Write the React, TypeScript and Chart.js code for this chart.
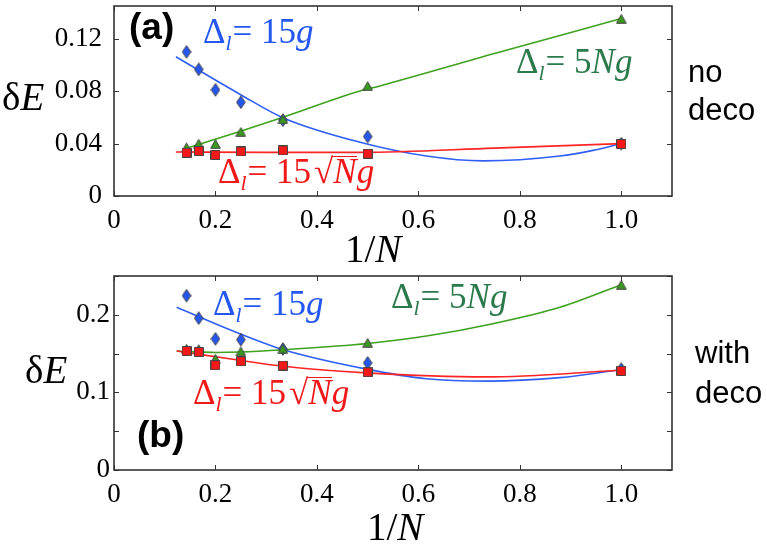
import React, { useEffect, useRef } from "react";
import { Chart, registerables } from "chart.js";

Chart.register(...registerables);

// ---------- data ----------
const invN = [0.143, 0.167, 0.2, 0.25, 0.333, 0.5, 1.0];

// panel (a): no deco
const blueA = [0.11, 0.0966, 0.081, 0.0715, 0.0579, 0.0454, 0.04];
const greenA = [0.0372, 0.04, 0.0397, 0.049, 0.0586, 0.084, 0.1353];
const redA = [0.033, 0.0343, 0.0313, 0.034, 0.0348, 0.0323, 0.0397];

const fitBlueAX = [0.122, 0.248, 0.334, 0.485, 0.616, 0.728, 0.879, 0.944, 1.0];
const fitBlueAY = [0.1063, 0.0777, 0.0596, 0.041, 0.0305, 0.0268, 0.0305, 0.0348, 0.04];
const fitGreenAX = [0.14, 0.248, 0.334, 0.485, 0.524, 0.75, 1.0];
const fitGreenAY = [0.036, 0.0492, 0.0603, 0.0802, 0.084, 0.1087, 0.1354];
const fitRedAX = [0.122, 0.3, 0.485, 0.75, 1.0];
const fitRedAY = [0.0336, 0.0333, 0.0333, 0.0365, 0.04];

// panel (b): with deco
const blueB = [0.2247, 0.1957, 0.169, 0.168, 0.156, 0.138, 0.13];
const greenB = [0.1564, 0.156, 0.1436, 0.153, 0.1564, 0.164, 0.2388];
const redB = [0.1533, 0.152, 0.135, 0.14, 0.1346, 0.126, 0.1277];

const fitBlueBX = [0.1235, 0.248, 0.334, 0.498, 0.616, 0.734, 0.879, 1.0];
const fitBlueBY = [0.2097, 0.1756, 0.155, 0.13, 0.1175, 0.1145, 0.119, 0.1295];
const fitGreenBX = [0.1235, 0.2, 0.248, 0.334, 0.5, 0.616, 0.747, 0.879, 1.0];
const fitGreenBY = [0.1533, 0.1515, 0.152, 0.155, 0.163, 0.1726, 0.1885, 0.2097, 0.2388];
const fitRedBX = [0.1235, 0.248, 0.334, 0.498, 0.734, 1.0];
const fitRedBY = [0.1533, 0.1414, 0.1337, 0.1251, 0.12, 0.1286];

// axes
const xMin = 0;
const xMax = 1.1;
const xStep = 0.2;
const yMaxA = 0.145;
const yStepA = 0.02;
const yLabelEveryA = 2;
const yMaxB = 0.25;
const yStepB = 0.05;
const yLabelEveryB = 2;

// ---------- styling ----------
const SERIF = "'Liberation Serif', 'Times New Roman', serif";
const SANS = "'Liberation Sans', Arial, sans-serif";
const BLUE_LINE = "#2f5ff5";
const GREEN_LINE = "#3ea21e";
const RED_LINE = "#ff2424";
const BLUE_FILL = "#2456f0";
const GREEN_FILL = "#3a9a1e";
const RED_FILL = "#f51818";
const BLUE_TXT = "#2456f0";
const GREEN_TXT = "#2b7a4c";
const RED_TXT = "#f01818";

function zip(xs: number[], ys: number[]) {
  return xs.map((x, i) => ({ x, y: ys[i] }));
}

function marker(kind: "diamond" | "square" | "triangle", fill: string) {
  const c = document.createElement("canvas");
  let w = 10, h = 10;
  if (kind === "diamond") { w = 10; h = 14; }
  if (kind === "triangle") { w = 11; h = 10; }
  c.width = w;
  c.height = h;
  const ctx = c.getContext("2d")!;
  ctx.fillStyle = fill;
  ctx.strokeStyle = "#444";
  ctx.lineWidth = 1;
  ctx.beginPath();
  if (kind === "diamond") {
    ctx.moveTo(w / 2, 0.7);
    ctx.lineTo(w - 0.7, h / 2);
    ctx.lineTo(w / 2, h - 0.7);
    ctx.lineTo(0.7, h / 2);
  } else if (kind === "square") {
    ctx.rect(0.5, 0.5, w - 1, h - 1);
  } else {
    ctx.moveTo(w / 2, 0.7);
    ctx.lineTo(w - 0.7, h - 0.7);
    ctx.lineTo(0.7, h - 0.7);
  }
  ctx.closePath();
  ctx.fill();
  ctx.stroke();
  return c;
}

const framePlugin = {
  id: "frameTicks",
  afterDatasetsDraw(chart: any) {
    const { ctx, chartArea: a } = chart;
    const xs = chart.scales.x;
    const ys = chart.scales.y;
    ctx.save();
    ctx.strokeStyle = "#333";
    ctx.lineWidth = 1;
    ctx.beginPath();
    xs.ticks.forEach((t: any) => {
      const px = Math.round(xs.getPixelForValue(t.value)) + 0.5;
      ctx.moveTo(px, a.bottom);
      ctx.lineTo(px, a.bottom - 5);
      ctx.moveTo(px, a.top);
      ctx.lineTo(px, a.top + 5);
    });
    ys.ticks.forEach((t: any) => {
      const py = Math.round(ys.getPixelForValue(t.value)) + 0.5;
      ctx.moveTo(a.left, py);
      ctx.lineTo(a.left + 5, py);
      ctx.moveTo(a.right, py);
      ctx.lineTo(a.right - 5, py);
    });
    ctx.stroke();
    ctx.lineWidth = 1.6;
    ctx.strokeRect(a.left, a.top, a.right - a.left, a.bottom - a.top);
    ctx.restore();
  },
};

type Panel = {
  blue: number[]; green: number[]; red: number[];
  fbx: number[]; fby: number[]; fgx: number[]; fgy: number[]; frx: number[]; fry: number[];
  yMax: number; yStep: number; yEvery: number; yDigits: number;
  padTop: number; xAxisH: number; yPad: number;
};

function buildConfig(p: Panel) {
  const dia = marker("diamond", BLUE_FILL);
  const sq = marker("square", RED_FILL);
  const tri = marker("triangle", GREEN_FILL);
  const fitDs = (xs: number[], ys: number[], color: string, order: number) => ({
    data: zip(xs, ys),
    showLine: true,
    borderColor: color,
    borderWidth: 1.6,
    pointRadius: 0,
    cubicInterpolationMode: "monotone",
    fill: false,
    order,
  });
  const ptDs = (ys: number[], img: HTMLCanvasElement, order: number) => ({
    data: zip(invN, ys),
    showLine: false,
    pointStyle: img,
    pointRadius: 5,
    order,
  });
  return {
    type: "scatter",
    data: {
      datasets: [
        fitDs(p.fbx, p.fby, BLUE_LINE, 12),
        fitDs(p.fgx, p.fgy, GREEN_LINE, 11),
        fitDs(p.frx, p.fry, RED_LINE, 10),
        ptDs(p.blue, dia, 3),
        ptDs(p.green, tri, 2),
        ptDs(p.red, sq, 1),
      ],
    },
    options: {
      animation: false,
      responsive: false,
      devicePixelRatio: 1,
      events: [],
      layout: { padding: { left: 0, right: 95, top: p.padTop, bottom: 0 } },
      plugins: { legend: { display: false }, tooltip: { enabled: false } },
      scales: {
        x: {
          type: "linear",
          min: xMin,
          max: xMax,
          grid: { display: false, drawTicks: false },
          border: { display: false },
          afterFit(s: any) {
            s.height = p.xAxisH;
            s.paddingLeft = 0;
            s.paddingRight = 0;
          },
          ticks: {
            stepSize: xStep,
            includeBounds: false,
            padding: 9,
            color: "#000",
            font: { family: SERIF, size: 27 },
            callback: (v: number) => (Math.abs(v) < 1e-9 ? "0" : v.toFixed(1)),
          },
        },
        y: {
          type: "linear",
          min: 0,
          max: p.yMax,
          grid: { display: false, drawTicks: false },
          border: { display: false },
          afterFit(s: any) {
            s.width = 114;
            s.paddingTop = 0;
            s.paddingBottom = 0;
          },
          ticks: {
            stepSize: p.yStep,
            includeBounds: false,
            padding: p.yPad,
            color: "#000",
            font: { family: SERIF, size: 27 },
            callback: (v: number) => {
              const k = Math.round(v / p.yStep);
              if (k % p.yEvery !== 0) return "";
              return k === 0 ? "0" : v.toFixed(p.yDigits);
            },
          },
        },
      },
    },
    plugins: [framePlugin],
  };
}

function ChartCanvas({ panel, top, height }: { panel: Panel; top: number; height: number }) {
  const ref = useRef<HTMLCanvasElement | null>(null);
  useEffect(() => {
    if (!ref.current) return;
    const chart = new Chart(ref.current, buildConfig(panel) as any);
    return () => chart.destroy();
  }, []);
  return (
    <canvas
      ref={ref}
      width={767}
      height={height}
      style={{ position: "absolute", left: 0, top, width: 767, height }}
    />
  );
}

function T({ x, y, size, color = "#000", family = SERIF, weight = 400, children }: any) {
  const asc = family === SANS ? 0.8465 : 0.8375;
  return (
    <div
      style={{
        position: "absolute",
        left: x,
        top: y - asc * size,
        fontSize: size,
        lineHeight: `${size}px`,
        fontFamily: family,
        fontWeight: weight,
        color,
        whiteSpace: "nowrap",
      }}
    >
      {children}
    </div>
  );
}

const Sub = () => (
  <span style={{ fontStyle: "italic", fontSize: "0.62em", verticalAlign: "-0.32em", lineHeight: 0, marginRight: 1 }}>l</span>
);

const LBL = 35;

function Delta15g({ x, y }: { x: number; y: number }) {
  return (
    <T x={x} y={y} size={LBL} color={BLUE_TXT}>
      Δ<Sub />= 15<i>g</i>
    </T>
  );
}
function Delta5Ng({ x, y }: { x: number; y: number }) {
  return (
    <T x={x} y={y} size={LBL} color={GREEN_TXT}>
      Δ<Sub />= 5<i>Ng</i>
    </T>
  );
}
function Delta15sqrtNg({ x, y }: { x: number; y: number }) {
  return (
    <T x={x} y={y} size={LBL} color={RED_TXT}>
      Δ<Sub />= 15
      <span style={{ marginLeft: 3 }}>√</span>
      <span style={{ display: "inline-block", position: "relative" }}>
        <i>N</i>
        <span
          style={{ position: "absolute", left: -1, right: 0, top: 2, borderTop: `1.5px solid ${RED_TXT}` }}
        />
      </span>
      <i>g</i>
    </T>
  );
}

const panelA: Panel = {
  blue: blueA, green: greenA, red: redA,
  fbx: fitBlueAX, fby: fitBlueAY, fgx: fitGreenAX, fgy: fitGreenAY, frx: fitRedAX, fry: fitRedAY,
  yMax: yMaxA, yStep: yStepA, yEvery: yLabelEveryA, yDigits: 2,
  padTop: 2, xAxisH: 74, yPad: 12,
};
const panelB: Panel = {
  blue: blueB, green: greenB, red: redB,
  fbx: fitBlueBX, fby: fitBlueBY, fgx: fitGreenBX, fgy: fitGreenBY, frx: fitRedBX, fry: fitRedBY,
  yMax: yMaxB, yStep: yStepB, yEvery: yLabelEveryB, yDigits: 1,
  padTop: 6, xAxisH: 84, yPad: 4,
};

export default function App() {
  return (
    <div
      style={{
        position: "fixed",
        left: 0,
        top: 0,
        width: 767,
        height: 554,
        background: "#fff",
        overflow: "hidden",
      }}
    >
      <ChartCanvas panel={panelA} top={0} height={270} />
      <ChartCanvas panel={panelB} top={270} height={284} />

      {/* panel (a) */}
      <T x={129} y={39} size={37} family={SANS} weight={700}>(a)</T>
      <Delta15g x={203} y={43} />
      <Delta5Ng x={516} y={73} />
      <Delta15sqrtNg x={218} y={183} />
      <T x={2} y={110} size={39}>δ<i>E</i></T>
      <T x={345} y={262} size={39}>1/<i>N</i></T>
      <T x={688} y={82} size={31} family={SANS}>no</T>
      <T x={688} y={120} size={31} family={SANS}>deco</T>

      {/* panel (b) */}
      <T x={137} y={447} size={37} family={SANS} weight={700}>(b)</T>
      <Delta15g x={213} y={315} />
      <Delta5Ng x={391} y={308} />
      <Delta15sqrtNg x={193} y={404} />
      <T x={25} y={383} size={39}>δ<i>E</i></T>
      <T x={367} y={540} size={39}>1/<i>N</i></T>
      <T x={695} y={363} size={31} family={SANS}>with</T>
      <T x={695} y={403} size={31} family={SANS}>deco</T>
    </div>
  );
}
